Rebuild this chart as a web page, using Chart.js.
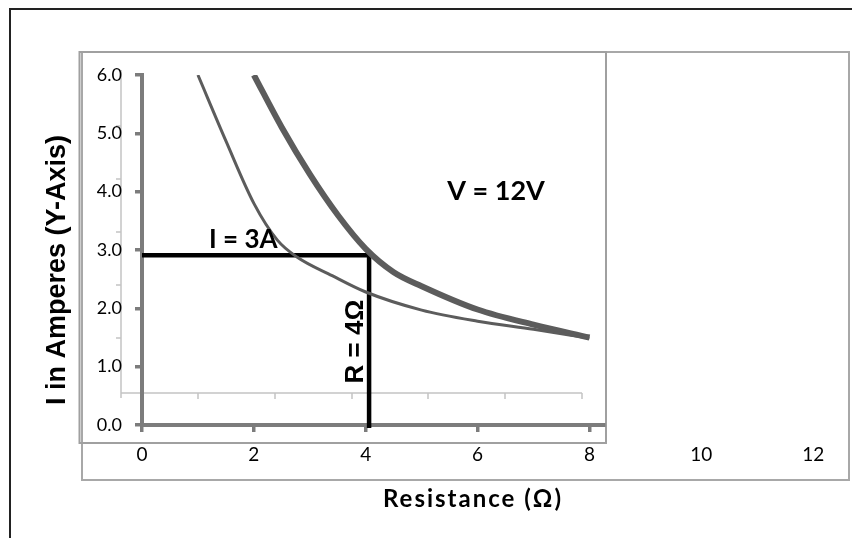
<!DOCTYPE html>
<html>
<head>
<meta charset="utf-8">
<title>I vs R (V = 12V)</title>
<script src="https://cdn.jsdelivr.net/npm/chart.js@4.4.0/dist/chart.umd.min.js"></script>
<style>
  html, body { margin: 0; padding: 0; background: #fff; }
  #chart { display: block; }
</style>
</head>
<body>
<canvas id="chart" width="852" height="538"></canvas>
<script>
// Curva fina
const thinR = [1, 1.5, 2, 2.42, 2.77, 3.4, 4, 5, 6, 7, 8];
const thinI = [6.0, 4.87, 3.8, 3.17, 2.88, 2.56, 2.28, 1.97, 1.78, 1.64, 1.49];

// Curva gruesa
const thickR = [2, 2.5, 3, 3.5, 4, 4.5, 5, 6, 7, 8];
const thickI = [6.0, 5.1, 4.3, 3.6, 3.02, 2.62, 2.38, 1.98, 1.72, 1.5];

// Guia negra: I = 3A y R = 4 ohm
const guideR = [0, 4.06, 4.06];
const guideI = [2.91, 2.91, -0.05];

// Etiquetas de los ejes
const xTickValues = [0, 2, 4, 6, 8, 10, 12];
const yTickValues = [0, 1, 2, 3, 4, 5, 6];

const axisGray = "#7c7c7c";
const curveGray = "#5c5c5c";

const toPoints = (xs, ys) => xs.map((x, i) => ({ x: x, y: ys[i] }));

// Textos dentro del grafico (posicion en unidades de datos)
const notes = [
    { text: "V = 12V", x: 6.33, y: 3.86, font: "bold 27px Lato", rotate: false },
    { text: "I = 3A", x: 1.81, y: 3.03, font: "bold 26px Lato", rotate: false },
    { text: "R = 4\u03A9", x: 3.95, y: 1.43, font: "bold 26px 'Liberation Sans'", rotate: true },
];

// Marcos, eje fantasma y titulos
const decorPlugin = {
    id: "decor",
    beforeDraw: (chart) => {
        const ctx = chart.ctx;
        ctx.save();
        ctx.fillStyle = "#fff";
        ctx.fillRect(0, 0, chart.width, chart.height);

        // marco exterior negro
        ctx.strokeStyle = "#222";
        ctx.lineWidth = 2;
        ctx.beginPath();
        ctx.moveTo(10, 538);
        ctx.lineTo(10, 9);
        ctx.lineTo(852, 9);
        ctx.stroke();

        // caja grande gris
        ctx.strokeStyle = "#a8a8a8";
        ctx.lineWidth = 2;
        ctx.strokeRect(82, 52, 767, 428);

        // caja interior
        ctx.strokeStyle = "#a0a0a0";
        ctx.strokeRect(79.5, 52, 526.5, 391);

        // eje fantasma de fondo
        ctx.strokeStyle = "#c4c4c4";
        ctx.lineWidth = 1.5;
        ctx.beginPath();
        ctx.moveTo(121, 70);
        ctx.lineTo(121, 398);
        ctx.moveTo(121, 393);
        ctx.lineTo(582, 393);
        [126, 179, 232, 285, 338].forEach((y) => {
            ctx.moveTo(116, y);
            ctx.lineTo(121, y);
        });
        [198, 275, 352, 428, 505, 582].forEach((x) => {
            ctx.moveTo(x, 393);
            ctx.lineTo(x, 399);
        });
        ctx.stroke();
        ctx.restore();
    },
    afterDraw: (chart) => {
        const ctx = chart.ctx;
        const xs = chart.scales.x;
        const ys = chart.scales.y;
        ctx.save();
        ctx.fillStyle = "#000";
        ctx.textAlign = "center";
        ctx.textBaseline = "alphabetic";

        notes.forEach((n) => {
            const px = xs.getPixelForValue(n.x);
            const py = ys.getPixelForValue(n.y);
            ctx.font = n.font;
            if (n.rotate) {
                ctx.save();
                ctx.translate(px, py);
                ctx.rotate(-Math.PI / 2);
                ctx.fillText(n.text, 0, 0);
                ctx.restore();
            } else {
                ctx.fillText(n.text, px, py);
            }
        });

        // titulo eje X
        ctx.font = "bold 24px Lato";
        ctx.letterSpacing = "2px";
        ctx.fillText("Resistance (\u03A9)", 473, 507);
        ctx.letterSpacing = "0px";

        // titulo eje Y
        ctx.save();
        ctx.translate(65, 270);
        ctx.rotate(-Math.PI / 2);
        ctx.font = "bold 27px 'Liberation Sans'";
        ctx.fillText("I in Amperes (Y-Axis)", 0, 0);
        ctx.restore();
        ctx.restore();
    },
};

const initializeChart = () => {
    const ctx = document.getElementById("chart").getContext("2d");
    new Chart(ctx, {
        type: "line",
        data: {
            datasets: [
                {
                    label: "thin",
                    data: toPoints(thinR, thinI),
                    borderColor: curveGray,
                    borderWidth: 3,
                    pointRadius: 0,
                    cubicInterpolationMode: "monotone",
                    fill: false,
                },
                {
                    label: "thick",
                    data: toPoints(thickR, thickI),
                    borderColor: curveGray,
                    borderWidth: 6,
                    pointRadius: 0,
                    cubicInterpolationMode: "monotone",
                    fill: false,
                },
                {
                    label: "guide",
                    data: toPoints(guideR, guideI),
                    borderColor: "#000",
                    borderWidth: 4.5,
                    borderJoinStyle: "miter",
                    pointRadius: 0,
                    tension: 0,
                    fill: false,
                    clip: false,
                },
            ],
        },
        options: {
            responsive: false,
            animation: false,
            devicePixelRatio: 1,
            layout: {
                padding: { top: 75, right: 248, bottom: 0, left: 0 },
            },
            plugins: {
                legend: { display: false },
                tooltip: { enabled: false },
            },
            scales: {
                x: {
                    type: "linear",
                    min: 0,
                    max: 8.26,
                    afterBuildTicks: (axis) => {
                        axis.ticks = xTickValues.map((v) => ({ value: v }));
                    },
                    afterFit: (scale) => {
                        scale.height = 113;
                    },
                    ticks: {
                        autoSkip: false,
                        maxRotation: 0,
                        padding: 11,
                        color: "#000",
                        font: { family: "Lato", size: 19 },
                    },
                    grid: {
                        drawOnChartArea: false,
                        tickLength: 7,
                        lineWidth: 3.5,
                        tickWidth: 3.5,
                        tickColor: (c) => (c.tick && c.tick.value <= 8 ? axisGray : "rgba(0,0,0,0)"),
                    },
                    border: { color: axisGray, width: 4 },
                },
                y: {
                    type: "linear",
                    min: 0,
                    max: 6,
                    afterBuildTicks: (axis) => {
                        axis.ticks = yTickValues.map((v) => ({ value: v }));
                    },
                    afterFit: (scale) => {
                        scale.width = 142;
                    },
                    ticks: {
                        padding: 13,
                        color: "#000",
                        font: { family: "Lato", size: 18 },
                        callback: (v) => Number(v).toFixed(1),
                    },
                    grid: {
                        drawOnChartArea: false,
                        tickLength: 7,
                        lineWidth: 3.5,
                        tickWidth: 3.5,
                        tickColor: axisGray,
                    },
                    border: { color: axisGray, width: 4 },
                },
            },
        },
        plugins: [decorPlugin],
    });
};

document.addEventListener("DOMContentLoaded", initializeChart);
</script>
</body>
</html>
